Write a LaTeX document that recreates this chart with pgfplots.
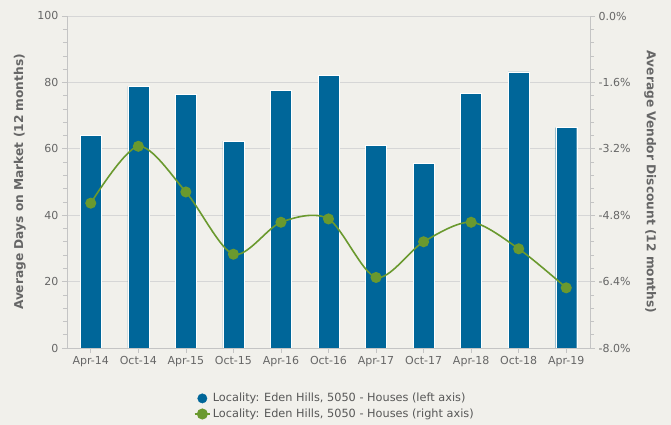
\documentclass[border=0pt]{standalone}
\usepackage{pgfplots}
\pgfplotsset{compat=1.18}
\usepackage{fontspec}
\setmainfont{DejaVu Sans}
\definecolor{bg}{HTML}{F1F0EB}
\definecolor{barblue}{HTML}{006699}
\definecolor{lgreen}{HTML}{6A992E}
\definecolor{gridc}{HTML}{D6D6D6}
\definecolor{txt}{HTML}{666666}
\definecolor{axc}{HTML}{C4C4C4}
\pgfplotstableread{
x days disc
0 64.0 -4.51
1 78.8 -3.14
2 76.3 -4.24
3 62.3 -5.74
4 77.6 -4.97
5 82.2 -4.89
6 61.0 -6.30
7 55.7 -5.44
8 76.7 -4.97
9 83.2 -5.61
10 66.4 -6.55
}\datatable
\begin{document}
\begin{tikzpicture}[x=1pt,y=1pt]
\fill[bg] (0,0) rectangle (671,425);
\pgfplotsset{
  common/.style={
    at={(67pt,77pt)}, anchor=south west,
    scale only axis, width=523pt, height=332pt,
    xmin=-0.5, xmax=10.5,
    tick align=outside,
    major tick length=5pt, minor tick length=4pt,
    every tick/.style={axc, line width=0.6pt},
    axis line style={axc, line width=0.8pt},
    tick label style={font=\fontsize{11}{13}\selectfont, color=txt},
    label style={font=\bfseries\fontsize{12.2}{14}\selectfont, color=txt},
    /pgf/number format/assume math mode=true,
  }
}
\begin{axis}[common,
  ymin=0, ymax=100,
  axis x line*=bottom, axis y line*=left,
  xtick={0,...,10},
  xticklabels={Apr-14,Oct-14,Apr-15,Oct-15,Apr-16,Oct-16,Apr-17,Oct-17,Apr-18,Oct-18,Apr-19},
  ytick={0,20,40,60,80,100}, minor y tick num=4,
  ymajorgrids, major grid style={gridc, line width=0.8pt},
  ylabel={Average Days on Market (12 months)},
  ylabel style={at={(axis description cs:-0.090,0.5)}, anchor=center},
]
\addplot[ybar, bar width=21pt, fill=barblue, draw=white, line width=0.4pt] table[x=x, y=days] {\datatable};
\end{axis}
\begin{axis}[common,
  ymin=-8, ymax=0,
  axis x line=none, axis y line*=right,
  ytick={-8,-6.4,-4.8,-3.2,-1.6,0}, minor y tick num=4,
  yticklabel={\pgfmathprintnumber[fixed,fixed zerofill,precision=1]{\tick}\%},
  ylabel={Average Vendor Discount (12 months)},
  ylabel style={rotate=180, at={(axis description cs:1.115,0.5)}, anchor=center},
  legend style={at={(axis description cs:0.512,-0.127)}, anchor=north, draw=none, fill=none,
    font=\fontsize{11.3}{13}\selectfont, text=txt!85!black, row sep=1.5pt, inner sep=1pt},
  legend cell align=left,
  legend image code/.code={\draw[mark repeat=2,mark phase=2] plot coordinates {(0cm,0cm) (0.27cm,0cm) (0.54cm,0cm)};},
]
\addlegendimage{only marks, mark=*, mark size=4.7pt, mark options={fill=barblue, draw=barblue}}
\addlegendentry{Locality: Eden Hills, 5050 - Houses (left axis)}
\addplot[lgreen, line width=1.6pt, smooth, mark=*, mark size=4.7pt, mark options={fill=lgreen, draw=lgreen}] table[x=x, y=disc] {\datatable};
\addlegendentry{Locality: Eden Hills, 5050 - Houses (right axis)}
\end{axis}
\end{tikzpicture}
\end{document}
